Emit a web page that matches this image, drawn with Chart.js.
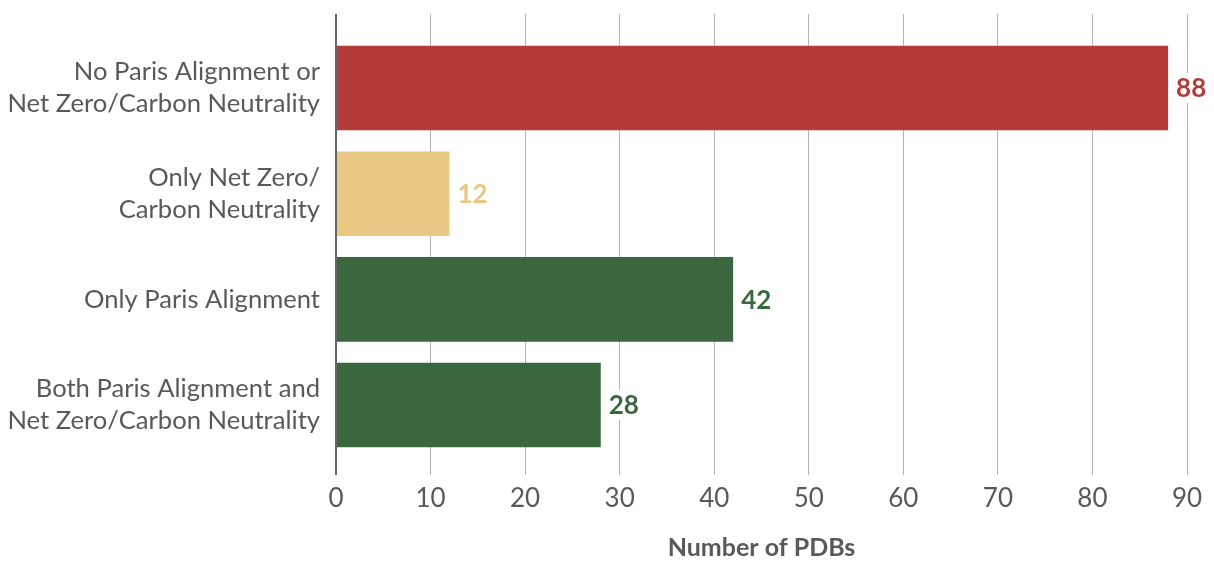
<!DOCTYPE html>
<html lang="en">
<head>
    <meta charset="UTF-8">
    <title>Number of PDBs</title>
    <script src="https://cdn.jsdelivr.net/npm/chart.js"></script>
    <style>
        html, body { margin: 0; padding: 0; background: #fff; }
        .wrap { position: relative; width: 1214px; height: 563px; }
    </style>
</head>
<body>
    <div class="wrap"><canvas id="pdbChart"></canvas></div>

    <script>
        // data
        const categories = [
            ['No Paris Alignment or', 'Net Zero/Carbon Neutrality'],
            ['Only Net Zero/', 'Carbon Neutrality'],
            ['Only Paris Alignment'],
            ['Both Paris Alignment and', 'Net Zero/Carbon Neutrality']
        ];
        const counts = [88, 12, 42, 28];
        const barColors = ['#b33b38', '#e9c883', '#3a673d', '#3a673d'];
        const xTicks = [0, 10, 20, 30, 40, 50, 60, 70, 80, 90];

        const textGrey = '#58595b';
        const fontName = 'Lato, "Open Sans", sans-serif';

        // numbers at the end of each bar
        const valueLabels = {
            id: 'valueLabels',
            afterDatasetsDraw(chart) {
                const ctx = chart.ctx;
                const meta = chart.getDatasetMeta(0);
                ctx.save();
                ctx.font = 'bold 26px ' + fontName;
                ctx.textBaseline = 'middle';
                ctx.textAlign = 'left';
                meta.data.forEach((bar, i) => {
                    const txt = String(counts[i]);
                    const w = ctx.measureText(txt).width;
                    const x = bar.x + 8;
                    ctx.fillStyle = '#fff';
                    ctx.fillRect(x - 2, bar.y - 15, w + 4, 30);
                    ctx.fillStyle = barColors[i];
                    ctx.fillText(txt, x, bar.y + 1);
                });
                ctx.restore();
            }
        };

        const ctx = document.getElementById('pdbChart').getContext('2d');
        const chart = new Chart(ctx, {
            type: 'bar',
            data: {
                datasets: [{
                    data: counts.map((v, i) => ({ x: v, y: i })),
                    backgroundColor: barColors,
                    borderWidth: 0,
                    categoryPercentage: 1,
                    barPercentage: 0.8
                }]
            },
            options: {
                indexAxis: 'y',
                responsive: true,
                maintainAspectRatio: false,
                animation: false,
                layout: { padding: { top: 14, right: 27, left: 0, bottom: 0 } },
                plugins: {
                    legend: { display: false },
                    tooltip: { enabled: false }
                },
                scales: {
                    y: {
                        type: 'linear',
                        reverse: true,
                        offset: false,
                        min: -0.7,
                        max: 3.66,
                        afterBuildTicks: s => { s.ticks = categories.map((c, i) => ({ value: i })); },
                        afterFit: s => {
                            s.width = 336;
                            s.paddingTop = 0;
                            s.paddingBottom = 0;
                        },
                        grid: { display: false, drawTicks: false, offset: false },
                        border: { display: false },
                        ticks: {
                            padding: 16,
                            color: textGrey,
                            font: { family: fontName, size: 25.6, lineHeight: 1.25 },
                            callback: v => categories[v]
                        }
                    },
                    x: {
                        min: 0,
                        max: 90,
                        afterBuildTicks: s => { s.ticks = xTicks.map(v => ({ value: v })); },
                        grid: {
                            drawTicks: false,
                            color: c => c.tick && c.tick.value === 0 ? '#666' : '#b4b4b4',
                            lineWidth: c => c.tick && c.tick.value === 0 ? 2 : 1
                        },
                        border: { display: false },
                        ticks: {
                            padding: 8,
                            color: textGrey,
                            font: { family: fontName, size: 26 }
                        },
                        title: {
                            display: true,
                            text: 'Number of PDBs',
                            color: textGrey,
                            font: { family: fontName, size: 25, weight: 'bold' },
                            padding: { top: 11, bottom: 0 }
                        }
                    }
                }
            },
            plugins: [valueLabels]
        });
    </script>
</body>
</html>
